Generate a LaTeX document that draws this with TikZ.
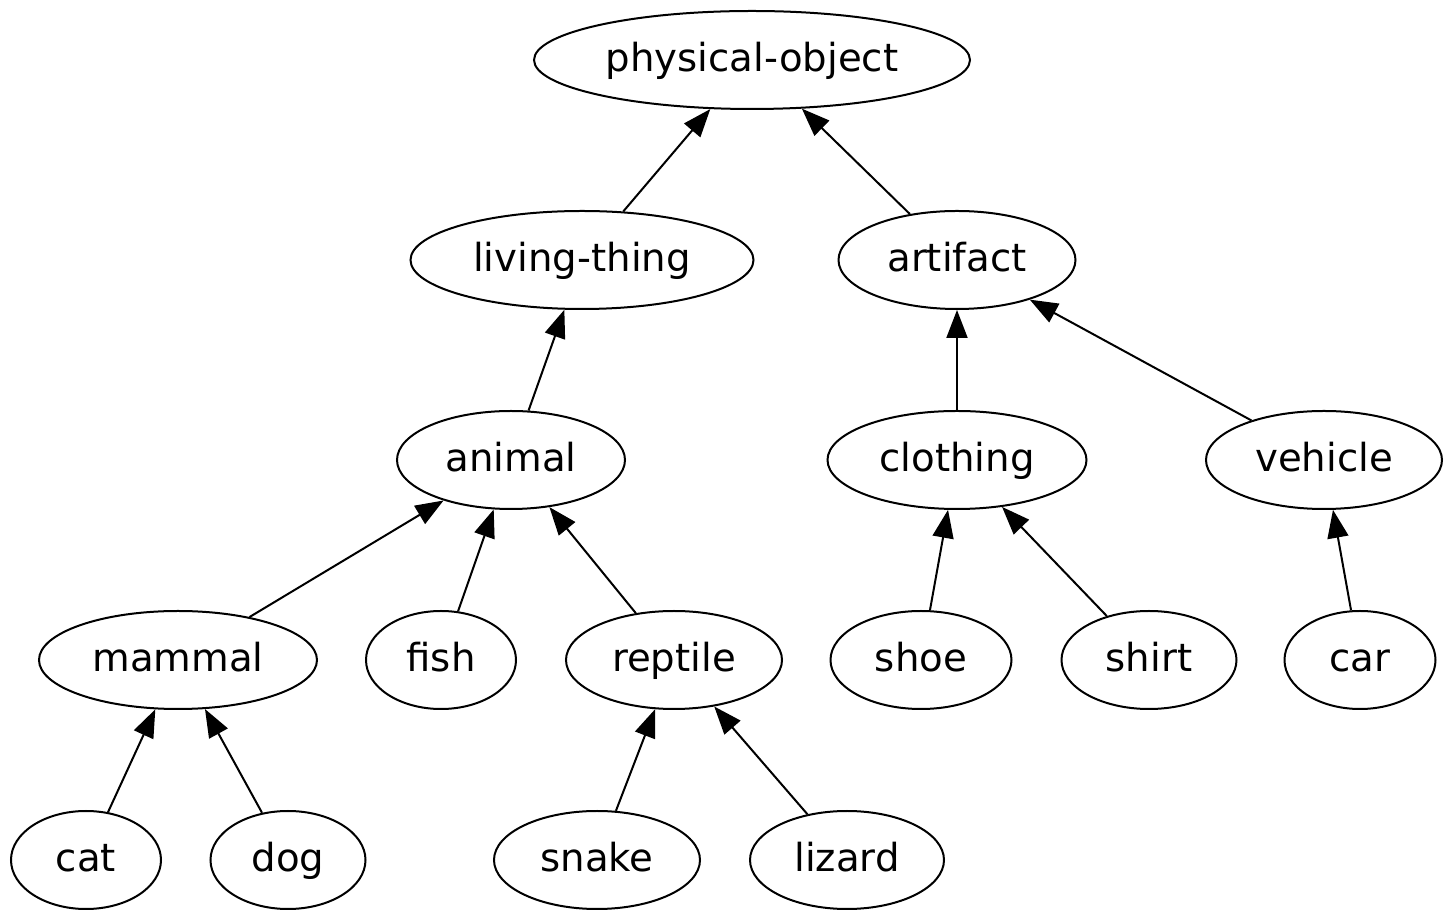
\documentclass[tikz,border=0pt]{standalone}
\usepackage{fontspec}
\setmainfont{DejaVu Sans}
\usetikzlibrary{shapes.geometric,arrows.meta}

\begin{document}
\begin{tikzpicture}
  [concept/.style={ellipse,draw,line width=0.04cm,inner sep=0pt,minimum height=1.96cm,
                   text height=17.6pt,text depth=4.4pt,
                   font=\fontsize{22}{26}\selectfont},
   isa/.style={line width=0.04cm,-{Triangle[length=0.56cm,width=0.42cm]}},
  ]
  \useasboundingbox (0,0) rectangle (29.06,18.44);
  \node[concept,minimum width=8.72cm] (po) at (15.04,17.24) {physical-object};

  \node[concept,minimum width=6.86cm] (lt) at (11.64,13.24) {living-thing};
  \node[concept,minimum width=4.74cm] (art) at (19.14,13.24) {artifact};

  \node[concept,minimum width=4.56cm] (ani) at (10.22,9.24) {animal};
  \node[concept,minimum width=5.18cm] (clo) at (19.14,9.24) {clothing};
  \node[concept,minimum width=4.72cm] (veh) at (26.48,9.24) {vehicle};

  \node[concept,minimum width=5.56cm] (mam) at (3.56,5.24) {mammal};
  \node[concept,minimum width=3.00cm] (fish) at (8.82,5.24) {fish};
  \node[concept,minimum width=4.32cm] (rep) at (13.48,5.24) {reptile};
  \node[concept,minimum width=3.62cm] (shoe) at (18.42,5.24) {shoe};
  \node[concept,minimum width=3.50cm] (shirt) at (22.98,5.24) {shirt};
  \node[concept,minimum width=3.02cm] (car) at (27.20,5.24) {car};

  \node[concept,minimum width=3.00cm] (cat) at (1.72,1.24) {cat};
  \node[concept,minimum width=3.10cm] (dog) at (5.76,1.24) {dog};
  \node[concept,minimum width=4.12cm] (snake) at (11.94,1.24) {snake};
  \node[concept,minimum width=3.88cm] (liz) at (16.94,1.24) {lizard};

  \path[isa] (lt) edge (po)
        (art) edge (po)
        (ani) edge (lt)
        (clo) edge (art)
        (veh) edge (art)
        (mam) edge (ani)
        (fish) edge (ani)
        (rep) edge (ani)
        (shoe) edge (clo)
        (shirt) edge (clo)
        (car) edge (veh)
        (cat) edge (mam)
        (dog) edge (mam)
        (snake) edge (rep)
        (liz) edge (rep);

\end{tikzpicture}
\end{document}
